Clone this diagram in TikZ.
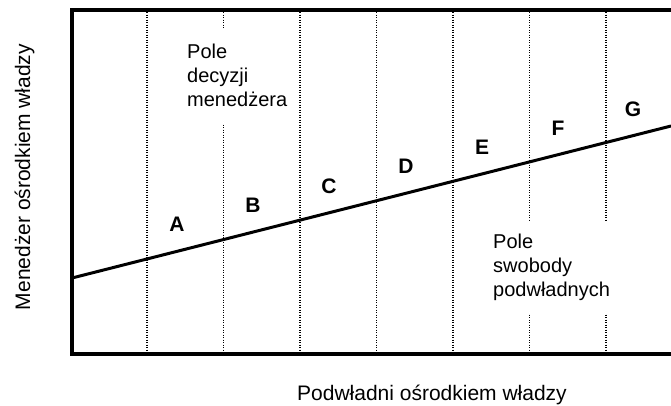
\documentclass[tikz,border=0pt]{standalone}
\usepackage{fontspec}
\setmainfont{Liberation Sans}
\begin{document}
\begin{tikzpicture}[x=1pt,y=-1pt]
% Styles
\tikzstyle{cadre}=[line width=3.5pt]
\tikzstyle{droite}=[line width=3pt]
\tikzstyle{pointille}=[line width=1.6pt,dash pattern=on 1.4pt off 1.1pt]
\tikzstyle{pole}=[fill=white,align=left,anchor=north west,font=\fontsize{20}{24}\selectfont]
\tikzstyle{lettre}=[font=\fontsize{21}{21}\selectfont\bfseries]
\tikzstyle{axe}=[anchor=base,font=\fontsize{21}{24}\selectfont]
% Dimensions
\def\Gauche{72}
\def\Droite{671}
\def\Haut{10}
\def\Bas{354}
\def\Pas{76.5}
% Dimensions calculées
\def\ColA{147}
\def\ColB{(147+1*\Pas)}
\def\ColC{(147+2*\Pas)}
\def\ColD{(147+3*\Pas)}
\def\ColE{(147+4*\Pas)}
\def\ColF{(147+5*\Pas)}
\def\ColG{(147+6*\Pas)}
\useasboundingbox (0,0) rectangle (671,405);
% Colonnes
\coordinate (Ha) at ({\ColA},12); \coordinate (Ba) at ({\ColA},352);
\coordinate (Hb) at ({\ColB},12); \coordinate (Bb) at ({\ColB},352);
\coordinate (Hc) at ({\ColC},12); \coordinate (Bc) at ({\ColC},352);
\coordinate (Hd) at ({\ColD},12); \coordinate (Bd) at ({\ColD},352);
\coordinate (He) at ({\ColE},12); \coordinate (Be) at ({\ColE},352);
\coordinate (Hf) at ({\ColF},12); \coordinate (Bf) at ({\ColF},352);
\coordinate (Hg) at ({\ColG},12); \coordinate (Bg) at ({\ColG},352);
\draw[pointille] (Ha)--(Ba);
\draw[pointille] (Hb)--(Bb);
\draw[pointille] (Hc)--(Bc);
\draw[pointille] (Hd)--(Bd);
\draw[pointille] (He)--(Be);
\draw[pointille] (Hf)--(Bf);
\draw[pointille] (Hg)--(Bg);
% Cadre
\coordinate (HD) at (\Droite,\Haut);
\coordinate (HG) at (\Gauche,\Haut);
\coordinate (BG) at (\Gauche,\Bas);
\coordinate (BD) at (\Droite,\Bas);
\draw[cadre] (HD)--(HG)--(BG)--(BD);
% Droite de partage
\coordinate (D0) at (\Gauche,278);
\coordinate (D1) at (\Droite,126);
\draw[droite] (D0)--(D1);
% Champs
\node[pole,inner xsep=12pt,inner ysep=16pt] (Manager) at (175,28) {Pole\\decyzji\\menedżera};
\node[pole,inner xsep=10pt,inner ysep=12pt] (Podwladni) at (483,222) {Pole\\swobody\\podwładnych};
% Lettres
\node[lettre] (A) at (177,224) {A};
\node[lettre] (B) at (253,205) {B};
\node[lettre] (C) at (329,186) {C};
\node[lettre] (D) at (406,166) {D};
\node[lettre] (E) at (482,147) {E};
\node[lettre] (F) at (558,128) {F};
\node[lettre] (G) at (633,109) {G};
% Axes
\node[axe,rotate=90] (AxeV) at (30,177) {Menedżer ośrodkiem władzy};
\node[axe] (AxeH) at (432,400) {Podwładni ośrodkiem władzy};
\end{tikzpicture}
\end{document}
